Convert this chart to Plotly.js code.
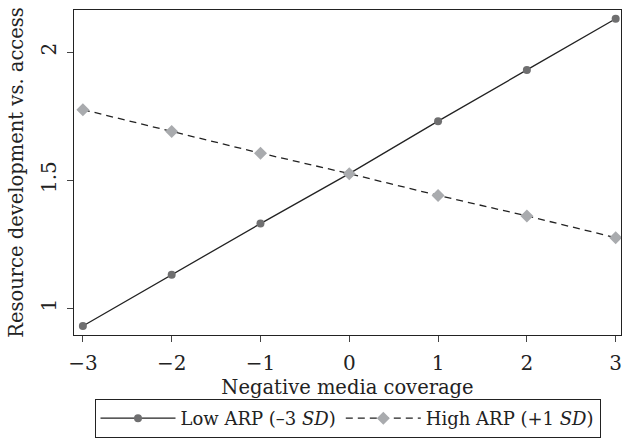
<!DOCTYPE html>
<html>
<head>
<meta charset="utf-8">
<script src="https://cdn.plot.ly/plotly-3.0.1.min.js"></script>
<style>html,body{margin:0;padding:0;background:#fff;}#chart{width:623px;height:442px;}</style>
</head>
<body>
<div id="chart"></div>
<script>
var xVals = [-3, -2, -1, 0, 1, 2, 3];
var lowARP = [0.93, 1.13, 1.33, 1.525, 1.73, 1.93, 2.13];
var highARP = [1.775, 1.69, 1.605, 1.525, 1.44, 1.36, 1.275];
var seriesNames = ['Low ARP (–3 <i>SD</i>)', 'High ARP (+1 <i>SD</i>)'];
var yTicks = [1, 1.5, 2];
var yTickText = ['1', '1.5', '2'];
var xTicks = [-3, -2, -1, 0, 1, 2, 3];

var font = 'DejaVu Serif, serif';
var traces = [
  {x: xVals, y: lowARP, name: seriesNames[0], type: 'scatter', mode: 'lines+markers',
   line: {color: '#222', width: 1.3}, marker: {symbol: 'circle', size: 8, color: '#6f6f70'}},
  {x: xVals, y: highARP, name: seriesNames[1], type: 'scatter', mode: 'lines+markers',
   line: {color: '#222', width: 1.3, dash: '7px,5px'}, marker: {symbol: 'diamond', size: 10, color: '#a9abae'}}
];
var layout = {
  width: 623, height: 442,
  margin: {l: 74, r: 2, t: 10, b: 107},
  paper_bgcolor: '#fff', plot_bgcolor: '#fff',
  font: {family: font, size: 20, color: '#222'},
  showlegend: true,
  legend: {orientation: 'h', x: 0.5, xanchor: 'center', yref: 'container', y: 0.009, yanchor: 'bottom',
    bordercolor: '#222', borderwidth: 1, font: {family: font, size: 18, color: '#222'},
    itemwidth: 75, tracegroupgap: 0},
  xaxis: {range: [-3.1, 3.06], tickvals: xTicks, ticks: 'outside', ticklen: 6, tickcolor: '#444',
    ticklabelstandoff: 4, automargin: false,
    showline: true, mirror: true, linecolor: '#222', linewidth: 1, showgrid: false, zeroline: false,
    title: {text: 'Negative media coverage', font: {family: font, size: 19.5}, standoff: 10}},
  yaxis: {range: [0.895, 2.164], tickvals: yTicks, ticktext: yTickText, tickangle: -90,
    ticks: 'outside', ticklen: 6, tickcolor: '#444', ticklabelstandoff: 3, automargin: false,
    showline: true, mirror: true, linecolor: '#222', linewidth: 1, showgrid: false, zeroline: false,
    title: {text: 'Resource development vs. access', font: {family: font, size: 19.5}, standoff: 8}}
};
Plotly.newPlot('chart', traces, layout, {displayModeBar: false, staticPlot: true});
</script>
</body>
</html>
